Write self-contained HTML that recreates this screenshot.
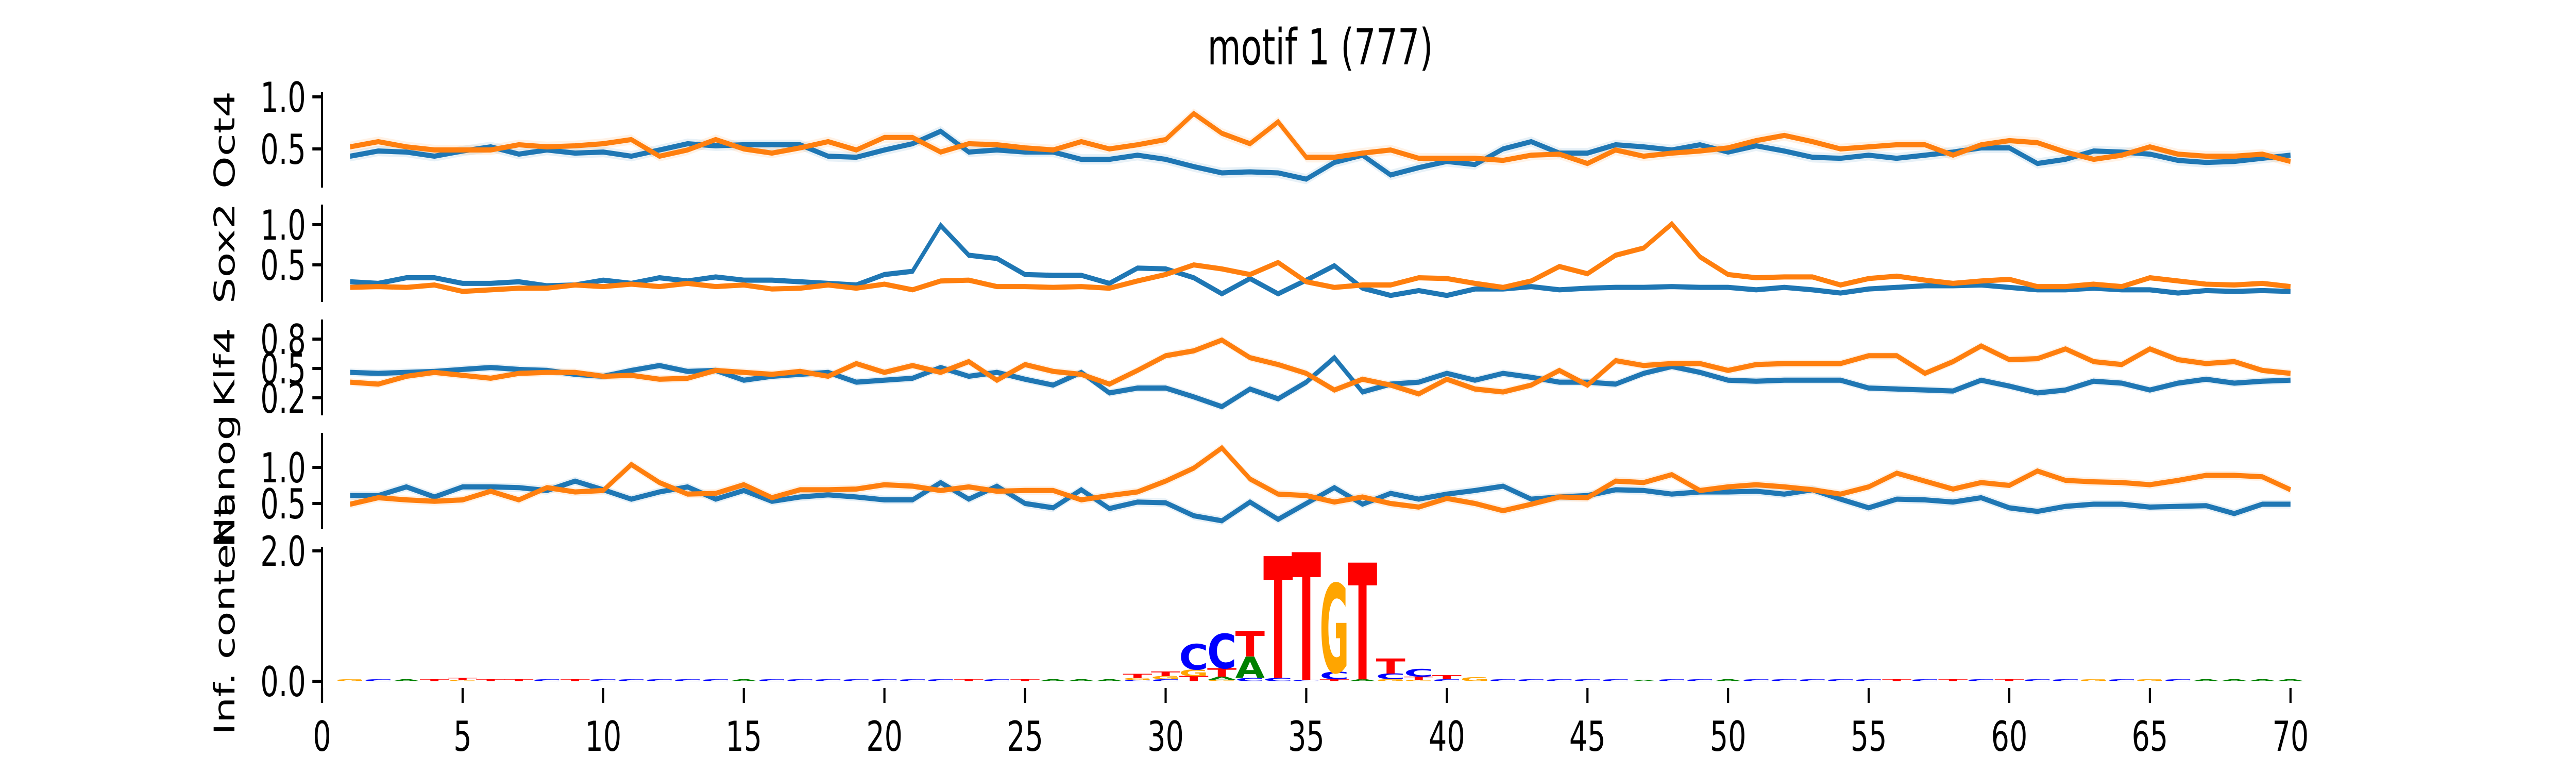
<!DOCTYPE html>
<html><head><meta charset="utf-8"><style>
html,body{margin:0;padding:0;background:#fff;width:100%;height:100%;overflow:hidden;}
svg{display:block;width:100vw;height:100vh;}
text{font-family:"DejaVu Sans","Liberation Sans",sans-serif;}
</style></head><body>
<svg id="chart" viewBox="0 0 7200 1500" preserveAspectRatio="none" xmlns="http://www.w3.org/2000/svg">
<rect width="7200" height="1500" fill="#fff"/>
<text x="3690" y="125" font-size="96" text-anchor="middle">motif 1 (777)</text>
<g id="panels"></g>
</svg>
<script>
const positions = [];
for (let i = 1; i <= 70; i++) positions.push(i);
const panelNames = ["Oct4","Sox2","Klf4","Nanog"];
const oct4Blue = [.43,.48,.47,.43,.48,.52,.45,.49,.46,.47,.43,.49,.55,.53,.54,.54,.54,.43,.42,.49,.55,.67,.47,.49,.47,.47,.40,.40,.44,.40,.33,.27,.28,.27,.21,.37,.44,.25,.32,.38,.35,.50,.57,.46,.46,.54,.52,.49,.54,.47,.53,.48,.42,.41,.44,.41,.44,.47,.51,.51,.36,.40,.48,.47,.45,.39,.37,.38,.41,.44];
const oct4Orange = [.52,.57,.52,.49,.49,.49,.54,.52,.53,.55,.59,.43,.49,.59,.50,.46,.51,.57,.49,.61,.61,.47,.55,.54,.51,.49,.57,.50,.54,.59,.84,.65,.55,.76,.42,.42,.46,.49,.41,.41,.41,.39,.44,.45,.36,.49,.43,.46,.48,.51,.58,.63,.57,.50,.52,.54,.54,.44,.54,.58,.56,.47,.40,.44,.52,.45,.43,.43,.45,.38];
const sox2Blue = [.29,.27,.34,.34,.27,.27,.29,.24,.25,.31,.27,.34,.30,.35,.31,.31,.29,.27,.25,.38,.42,.99,.62,.58,.38,.37,.37,.27,.46,.45,.34,.14,.33,.14,.31,.49,.21,.12,.18,.12,.20,.20,.23,.19,.21,.22,.22,.23,.22,.22,.19,.22,.19,.15,.20,.22,.24,.24,.25,.22,.19,.19,.21,.19,.19,.15,.18,.17,.18,.17];
const sox2Orange = [.22,.23,.22,.25,.17,.19,.21,.21,.25,.23,.26,.23,.27,.23,.25,.20,.21,.25,.21,.26,.19,.30,.31,.23,.23,.22,.23,.21,.30,.38,.50,.45,.38,.53,.29,.22,.25,.25,.34,.33,.27,.22,.30,.48,.39,.62,.71,1.01,.60,.38,.34,.35,.35,.25,.33,.36,.31,.27,.30,.32,.23,.23,.26,.23,.34,.30,.26,.25,.27,.23];
const klf4Blue = [.46,.45,.46,.47,.49,.51,.49,.48,.44,.42,.48,.53,.47,.48,.38,.42,.44,.46,.36,.38,.40,.51,.42,.46,.39,.33,.46,.25,.30,.30,.21,.11,.29,.19,.36,.61,.26,.34,.36,.45,.38,.45,.41,.36,.36,.34,.45,.52,.46,.38,.37,.38,.38,.38,.30,.29,.28,.27,.38,.32,.25,.28,.37,.35,.28,.35,.39,.35,.37,.38];
const klf4Orange = [.36,.34,.42,.46,.43,.40,.45,.46,.46,.42,.43,.39,.40,.48,.46,.44,.47,.42,.55,.46,.53,.46,.57,.38,.54,.47,.44,.34,.48,.63,.68,.79,.61,.54,.45,.28,.39,.33,.24,.39,.29,.26,.33,.48,.33,.58,.53,.55,.55,.48,.54,.55,.55,.55,.63,.63,.45,.57,.73,.59,.60,.70,.57,.54,.70,.59,.55,.57,.48,.45];
const nanogBlue = [.61,.61,.73,.59,.73,.73,.72,.68,.81,.69,.56,.66,.73,.56,.68,.53,.59,.62,.59,.55,.55,.79,.56,.74,.50,.44,.69,.43,.52,.51,.33,.26,.52,.28,.50,.72,.49,.64,.56,.63,.68,.74,.56,.59,.61,.69,.68,.63,.66,.66,.67,.63,.69,.56,.44,.56,.55,.52,.58,.44,.39,.46,.49,.49,.45,.46,.47,.36,.49,.49];
const nanogOrange = [.49,.58,.55,.53,.55,.67,.55,.72,.66,.68,1.04,.79,.63,.64,.76,.58,.69,.69,.70,.76,.74,.68,.73,.67,.68,.68,.55,.61,.66,.81,.99,1.27,.84,.63,.61,.52,.59,.50,.45,.57,.50,.40,.49,.59,.58,.81,.79,.90,.68,.73,.76,.73,.69,.63,.73,.92,.81,.70,.79,.75,.95,.82,.80,.79,.76,.82,.89,.89,.87,.69];
const errHalf = [0.05, 0.03, 0.04, 0.06];
const logoA = [0,0,.03,0,0,0,0,0,0,0,0,0,0,0,.03,0,0,0,0,0,0,0,0,0,0,.03,.03,.03,0,0,0,.05,.33,0,0,0,.03,0,0,0,0,0,0,0,0,0,.02,0,0,.03,0,0,0,0,0,0,0,0,0,0,0,0,0,0,0,0,.03,.03,.03,.03];
const logoC = [0,.03,0,0,0,0,0,.03,0,.03,.03,.03,.03,.03,0,.03,.03,.03,.03,.03,.03,.03,0,.03,0,0,0,0,.02,.03,.39,.53,.05,.05,.02,.11,0,.09,.12,.03,0,.03,.03,.03,.03,.03,0,.03,.03,0,.03,.03,.03,.03,.03,0,.03,0,.03,0,.03,.03,0,.03,0,.03,0,0,0,0];
const logoG = [.03,0,0,0,.02,0,0,0,0,0,0,0,0,0,0,0,0,0,0,0,0,0,0,0,0,0,0,0,.03,.05,.10,.02,0,0,0,1.36,0,.03,.02,0,.06,0,0,0,0,0,0,0,0,0,0,0,0,0,0,0,0,0,0,0,0,0,.03,0,.03,0,0,0,0,0];
const logoT = [0,0,0,.03,.03,.03,.03,0,.03,0,0,0,0,0,0,0,0,0,0,0,0,0,.03,0,.03,0,0,0,.06,.07,.08,.13,.39,1.87,1.96,.03,1.79,.23,.05,.06,0,0,0,0,0,0,0,0,0,0,0,0,0,0,0,.03,0,.03,0,.03,0,0,0,0,0,0,0,0,0,0];
const xTicks = [0,5,10,15,20,25,30,35,40,45,50,55,60,65,70];

const NS = "http://www.w3.org/2000/svg";
const root = document.getElementById("panels");
const X0 = 900, XU = 78.6;
function xs(v){ return X0 + v*XU; }
function mk(tag, attrs, parent){ const e = document.createElementNS(NS, tag); for (const k in attrs) e.setAttribute(k, attrs[k]); (parent||root).appendChild(e); return e; }

const panels = [
  {name:"Oct4", top:179, bot:364, ref:1.0, refY:188, ppu:202, ticks:[0.5,1.0], labels:["0.5","1.0"], blue:oct4Blue, orange:oct4Orange},
  {name:"Sox2", top:397, bot:586, ref:1.0, refY:436, ppu:156, ticks:[0.5,1.0], labels:["0.5","1.0"], blue:sox2Blue, orange:sox2Orange},
  {name:"Klf4", top:620, bot:806, ref:0.8, refY:658, ppu:190, ticks:[0.2,0.5,0.8], labels:["0.2","0.5","0.8"], blue:klf4Blue, orange:klf4Orange},
  {name:"Nanog", top:840, bot:1027, ref:1.0, refY:907, ppu:140, ticks:[0.5,1.0], labels:["0.5","1.0"], blue:nanogBlue, orange:nanogOrange}
];

function drawYAxis(g, top, bot, ticks, labels, ysf){
  const sp = mk("line",{x1:X0,x2:X0,y1:top,y2:bot,stroke:"#000","stroke-width":6},g);
  
  
  ticks.forEach((t,i)=>{
    const y = ysf(t);
    const tk = mk("line",{x1:X0-27,x2:X0,y1:y,y2:y,stroke:"#000","stroke-width":6},g);
    
    
    const tl = mk("text",{x:X0-45,y:y+29,"font-size":80,"text-anchor":"end"},g);
    tl.textContent = labels[i];
    
    
  });
}
function ylabel(g, text, cy){
  const t = mk("text",{x:0,y:0,"font-size":80,"text-anchor":"middle",transform:`translate(655,${cy}) rotate(-90)`},g);
  t.textContent = text;
  
  
}

panels.forEach((p,pi)=>{
  const g = mk("g",{});
  
  
  const ysf = v => p.refY + (p.ref - v)*p.ppu;
  const e = errHalf[pi];
  [["#1f77b4",p.blue,"blue"],["#ff7f0e",p.orange,"orange"]].forEach(([col,arr,nm])=>{
    let up = arr.map((v,i)=>xs(positions[i])+","+ysf(v+e)).join(" ");
    let dn = arr.map((v,i)=>xs(positions[i])+","+ysf(v-e)).reverse().join(" ");
    const band = mk("polygon",{points:up+" "+dn,fill:col,"fill-opacity":0.1},g);
    
    
  });
  [["#1f77b4",p.blue,"blue"],["#ff7f0e",p.orange,"orange"]].forEach(([col,arr,nm])=>{
    const pts = arr.map((v,i)=>xs(positions[i])+","+ysf(v)).join(" ");
    const ln = mk("polyline",{points:pts,fill:"none",stroke:col,"stroke-width":10,"stroke-linejoin":"miter","stroke-miterlimit":4},g);
    
    
  });
  drawYAxis(g, p.top, p.bot, p.ticks, p.labels, ysf);
  ylabel(g, p.name, (p.top+p.bot)/2);
});

const lg = mk("g",{});


const LY0 = 1322, LPU = 126.5;
const ly = v => LY0 - v*LPU;
const letters = [["A",logoA,"#008000",0.774],["C",logoC,"#0000ff",0.734],["G",logoG,"#ffa500",0.821],["T",logoT,"#ff0000",0.682]];
positions.forEach((pos,i)=>{
  const stack = letters.map(l=>({ch:l[0],h:l[1][i],col:l[2],adv:l[3]})).filter(s=>s.h>0).sort((a,b)=>a.h-b.h);
  let base = 0;
  const w = 1.05*XU;
  stack.forEach(s=>{
    const yb = ly(base), yt = ly(base+s.h);
    const hpx = yb-yt;
    const sx = w/(s.adv*100), sy = hpx/72.9;
    const t = mk("text",{x:0,y:0,"font-size":100,"font-weight":"bold",fill:s.col,transform:`translate(${xs(pos)-w/2},${yb}) scale(${sx},${sy})`},lg);
    t.textContent = s.ch;
    
    
    base += s.h;
  });
});
drawYAxis(lg, 1061, 1364, [0,2], ["0.0","2.0"], ly);
ylabel(lg, "Inf. content", 1200);
xTicks.forEach(t=>{
  const x = xs(t);
  const tk = mk("line",{x1:x,x2:x,y1:1335,y2:1364,stroke:"#000","stroke-width":6},lg);
  
  
  const tl = mk("text",{x:x,y:1457,"font-size":80,"text-anchor":"middle"},lg);
  tl.textContent = String(t);
  
  
});
</script>
</body></html>
